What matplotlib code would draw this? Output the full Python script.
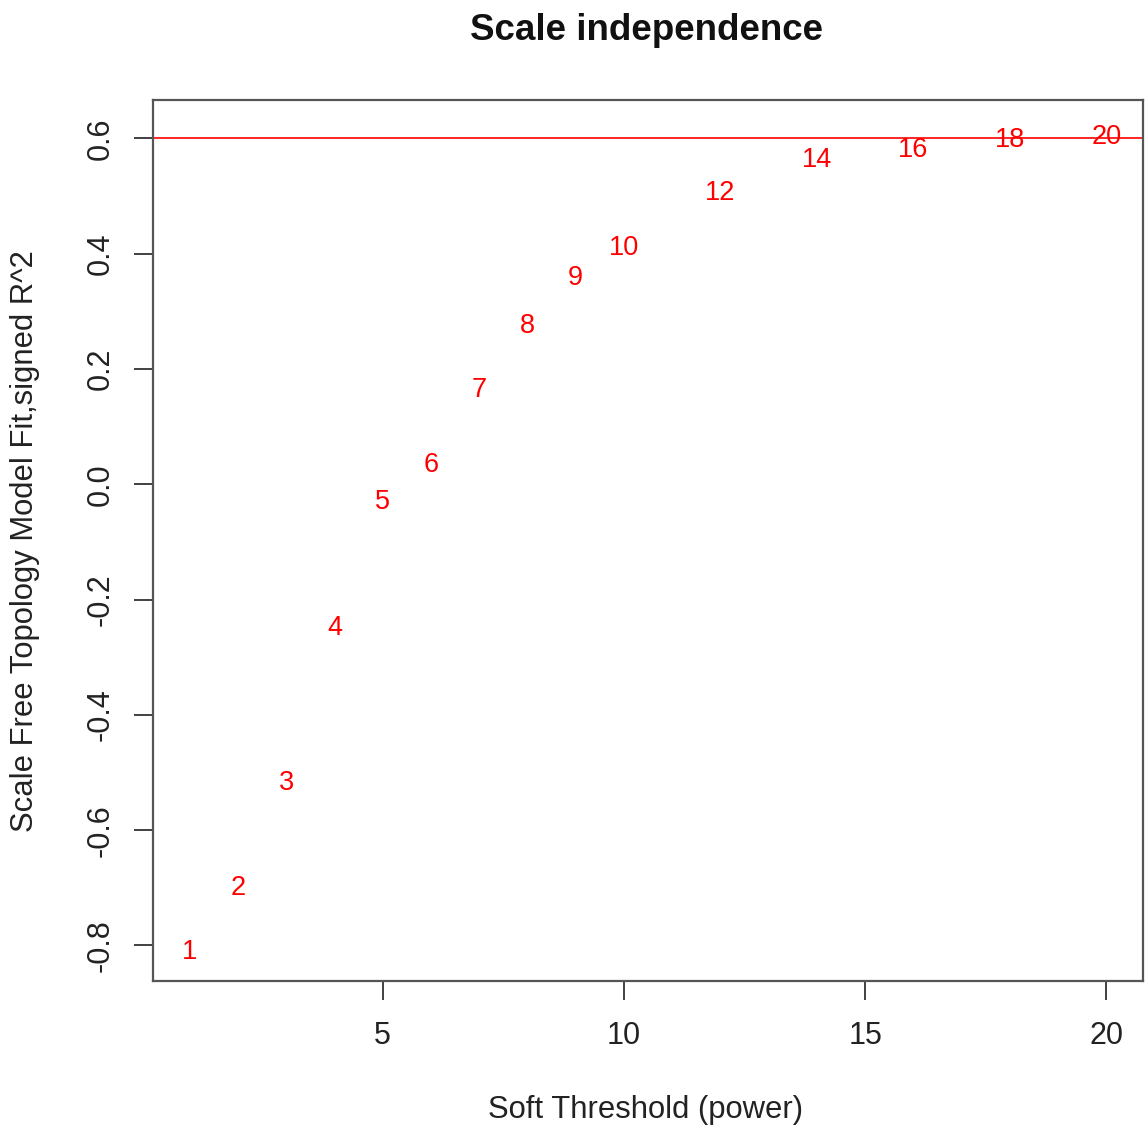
import matplotlib.pyplot as plt
import matplotlib.transforms as mtrans
import numpy as np

plt.rcParams["font.family"] = ["Liberation Sans", "DejaVu Sans"]

# soft-threshold powers and signed scale-free fit R^2
powers = [1, 2, 3, 4, 5, 6, 7, 8, 9, 10, 12, 14, 16, 18, 20]
sft_r2 = [-0.805, -0.694, -0.511, -0.242, -0.023, 0.040, 0.171, 0.282,
          0.365, 0.417, 0.513, 0.570, 0.587, 0.604, 0.610]
cutoff = 0.6

W, H = 1147, 1129
fig = plt.figure(figsize=(W / 100, H / 100), dpi=100)
ax = fig.add_axes([153 / W, 1 - 981 / H, 990 / W, 881 / H])

# R-style 4% padding around the data
x = np.array(powers, dtype=float)
y = np.array(sft_r2)
xr = x.max() - x.min()
yr = y.max() - y.min()
ax.set_xlim(x.min() - 0.04 * xr, x.max() + 0.04 * xr)
ax.set_ylim(y.min() - 0.04 * yr, y.max() + 0.04 * yr)

# R centres text on the glyph height, not the line box -> nudge down a bit
shift = mtrans.offset_copy(ax.transData, fig=fig, x=0, y=-4, units="dots")
for p, v in zip(powers, sft_r2):
    ax.text(p, v, str(p), color="red", fontsize=19.5, ha="center",
            va="center", transform=shift)

ax.axhline(cutoff, color="red", lw=1.2)

for s in ax.spines.values():
    s.set_color("#555555")
    s.set_linewidth(1.6)

ax.set_xticks([5, 10, 15, 20])
ax.set_yticks([-0.8, -0.6, -0.4, -0.2, 0.0, 0.2, 0.4, 0.6])
ax.set_yticklabels(["-0.8", "-0.6", "-0.4", "-0.2", "0.0", "0.2", "0.4", "0.6"])
ax.tick_params(axis="both", length=14, width=1.3, color="#333333",
               labelsize=22, labelcolor="#222222")
ax.tick_params(axis="x", pad=15)
ax.tick_params(axis="y", pad=13)
for lab in ax.get_yticklabels():
    lab.set_rotation(90)
    lab.set_va("center")

fig.text(646 / W, 1 - 30 / H, "Scale independence", fontsize=26.5,
         fontweight="bold", ha="center", va="center", color="#111111")
fig.text(646 / W, 1 - 1110 / H, "Soft Threshold (power)", fontsize=22.3,
         ha="center", va="center", color="#222222")
fig.text(25 / W, 1 - 541 / H, "Scale Free Topology Model Fit,signed R^2",
         fontsize=22.3, rotation=90, ha="center", va="center", color="#222222")

fig.savefig("out.png", dpi=100)
